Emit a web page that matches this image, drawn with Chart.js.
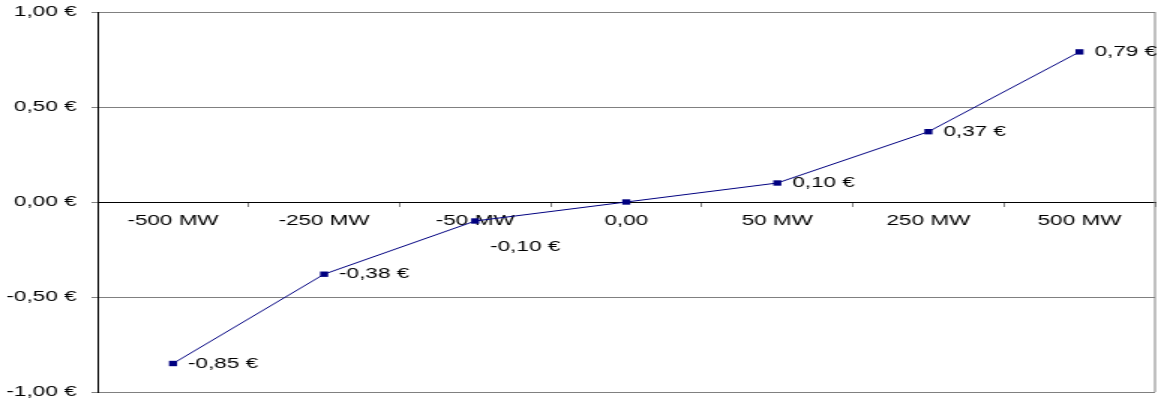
<!DOCTYPE html>
<html lang="de">
<head>
<meta charset="UTF-8">
<title>Preiseffekt</title>
<script src="https://cdn.jsdelivr.net/npm/chart.js"></script>
<style>
  body { margin: 0; background: #fff; }
  #chart { display: block; }
</style>
</head>
<body>
<!-- the original text is stretched sideways, so draw narrow and stretch the canvas -->
<canvas id="chart" width="774" height="404" style="width:1161px;height:404px"></canvas>
<script>
  // categories and values
  const categories = ['-500 MW', '-250 MW', '-50 MW', '0,00', '50 MW', '250 MW', '500 MW'];
  const values = [-0.85, -0.38, -0.10, 0.00, 0.10, 0.37, 0.79];
  const pointLabels = ['-0,85 €', '-0,38 €', '-0,10 €', '', '0,10 €', '0,37 €', '0,79 €'];
  const labelPlacement = ['right', 'right', 'below', 'none', 'right', 'right', 'right'];
  const yTicks = [-1, -0.5, 0, 0.5, 1];

  const FONT = { family: '"Liberation Sans", Arial, Helvetica, sans-serif', size: 15 };

  function euro(v) {
    return v.toFixed(2).replace('.', ',') + ' €';
  }

  // value labels beside the markers
  const valueLabels = {
    id: 'valueLabels',
    afterDatasetsDraw(chart) {
      const ctx = chart.ctx;
      const meta = chart.getDatasetMeta(0);
      ctx.save();
      ctx.font = FONT.size + 'px ' + FONT.family;
      ctx.fillStyle = '#000';
      ctx.textAlign = 'left';
      ctx.textBaseline = 'middle';
      meta.data.forEach((pt, i) => {
        const where = labelPlacement[i];
        if (where === 'none' || !pointLabels[i]) return;
        let dy = 0;
        if (where === 'below') dy = 26;
        ctx.fillText(pointLabels[i], pt.x + 10, pt.y + dy);
      });
      ctx.restore();
    }
  };

  // grey frame on the right side of the plot
  const frame = {
    id: 'frame',
    beforeDatasetsDraw(chart) {
      const a = chart.chartArea;
      const ctx = chart.ctx;
      ctx.save();
      ctx.strokeStyle = '#808080';
      ctx.lineWidth = 1;
      ctx.beginPath();
      ctx.moveTo(a.right, a.top);
      ctx.lineTo(a.right, a.bottom);
      ctx.stroke();
      ctx.restore();
    }
  };

  new Chart(document.getElementById('chart'), {
    type: 'line',
    data: {
      labels: categories,
      datasets: [{
        data: values,
        borderColor: '#000080',
        backgroundColor: '#000080',
        borderWidth: 1,
        pointStyle: 'rect',
        pointRadius: 3.8,
        pointBorderWidth: 0,
        pointBackgroundColor: '#000080',
        tension: 0
      }]
    },
    options: {
      responsive: false,
      animation: false,
      layout: { padding: { left: 0, right: 0, top: 12, bottom: 12 } },
      plugins: {
        legend: { display: false },
        tooltip: { enabled: false }
      },
      scales: {
        x: {
          type: 'category',
          position: { y: 0 },
          offset: true,
          afterFit(scale) { scale.paddingLeft = 0; scale.paddingRight = 0; },
          border: { display: true, color: '#000', width: 1 },
          grid: {
            offset: true,
            drawOnChartArea: false,
            drawTicks: true,
            tickLength: 4,
            color: '#808080'
          },
          ticks: {
            color: '#000',
            font: FONT,
            padding: 6,
            maxRotation: 0,
            autoSkip: false
          }
        },
        y: {
          min: -1,
          max: 1,
          afterFit(scale) {
            scale.width = 65;
            scale.paddingTop = 0;
            scale.paddingBottom = 0;
          },
          afterBuildTicks(scale) { scale.ticks = yTicks.map(v => ({ value: v })); },
          border: { display: true, color: '#000', width: 1 },
          grid: {
            color: ctx => (ctx.tick && ctx.tick.value === 0 ? '#000' : '#808080'),
            tickColor: '#808080',
            tickLength: 4,
            lineWidth: 1
          },
          ticks: {
            color: '#000',
            font: FONT,
            padding: 10,
            callback: v => euro(v)
          }
        }
      }
    },
    plugins: [frame, valueLabels]
  });
</script>
</body>
</html>
